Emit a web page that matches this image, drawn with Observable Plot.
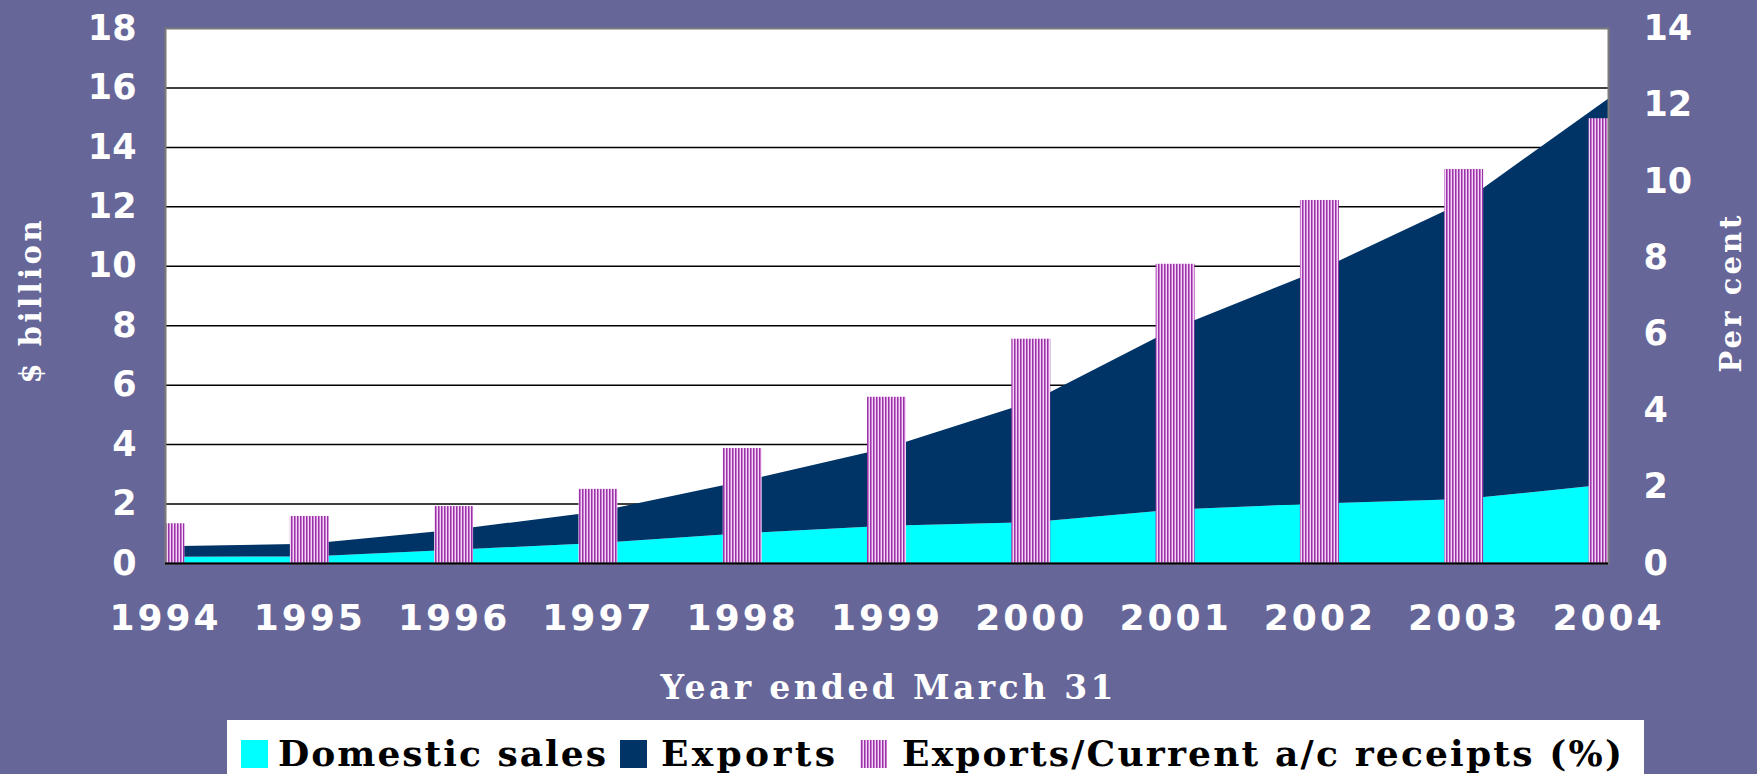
<!DOCTYPE html>
<html>
<head>
<meta charset="utf-8">
<script src="https://cdn.jsdelivr.net/npm/d3@7"></script>
<script src="https://cdn.jsdelivr.net/npm/@observablehq/plot@0.6"></script>
<style>
  html, body { margin: 0; padding: 0; background: #666699; }
  #chart svg, #legend svg { display: block; }
  g[aria-label="x-axis tick label"] { letter-spacing: 3px; }
</style>
</head>
<body>
<div id="chart"></div>
<div id="legend"></div>
<script>
// ---- Data ----
const years = [1994, 1995, 1996, 1997, 1998, 1999, 2000, 2001, 2002, 2003, 2004];
// $ billion
const domesticSales = [0.21, 0.22, 0.45, 0.67, 1.00, 1.25, 1.37, 1.80, 2.00, 2.15, 2.65];
const exports       = [0.35, 0.43, 0.67, 1.06, 1.75, 2.62, 4.05, 6.11, 7.86, 10.00, 12.97];
// Per cent
const exportsShare  = [1.04, 1.23, 1.49, 1.94, 3.01, 4.35, 5.87, 7.83, 9.50, 10.31, 11.64];

const seriesNames = ["Domestic sales", "Exports"];
const shareName = "Exports/Current a/c receipts (%)";
const xTitle = "Year ended March 31";
const leftTitle = "$ billion";
const rightTitle = "Per cent";
const leftTicks = [0, 2, 4, 6, 8, 10, 12, 14, 16, 18];
const rightTicks = [0, 2, 4, 6, 8, 10, 12, 14];
const gridTicks = [2, 4, 6, 8, 10, 12, 14, 16];

const leftMax = 18, rightMax = 14;
const toLeft = v => v * leftMax / rightMax;

// tidy table for the stacked areas
const areaRows = [];
years.forEach((y, i) => {
  areaRows.push({year: y, series: seriesNames[0], value: domesticSales[i]});
  areaRows.push({year: y, series: seriesNames[1], value: exports[i]});
});
const shareRows = years.map((y, i) => ({year: y, share: exportsShare[i]}));

const barHalf = 0.135;

const chart = Plot.plot({
  width: 1757,
  height: 720,
  marginTop: 28,
  marginBottom: 157,
  marginLeft: 165,
  marginRight: 149,
  style: {background: "#666699", fontFamily: "DejaVu Sans", overflow: "visible"},
  x: {domain: [1994, 2004], axis: null},
  y: {domain: [0, leftMax], axis: null},
  color: {domain: seriesNames, range: ["#00ffff", "#003366"]},
  marks: [
    Plot.frame({fill: "white"}),
    Plot.ruleY(gridTicks, {stroke: "#000", strokeWidth: 1.5}),
    Plot.areaY(areaRows, {x: "year", y: "value", fill: "series"}),
    Plot.rectY(shareRows, {
      x1: d => d.year - barHalf,
      x2: d => d.year + barHalf,
      y1: 0,
      y2: d => toLeft(d.share),
      fill: "url(#stripes)",
      clip: true
    }),
    Plot.frame({stroke: "#7a7a7a", strokeWidth: 2}),
    Plot.ruleY([0], {stroke: "#000", strokeWidth: 2}),
    Plot.axisX(years, {
      tickSize: 0, tickPadding: 41, tickFormat: "d",
      fontSize: 36, fontWeight: "bold", color: "white", label: null
    }),
    Plot.axisY(leftTicks, {
      anchor: "left", tickSize: 0, tickPadding: 29,
      fontSize: 35, fontWeight: "bold", color: "white", label: null
    }),
    Plot.axisY(rightTicks.map(toLeft), {
      anchor: "right", tickSize: 0, tickPadding: 35,
      tickFormat: d => Math.round(d * rightMax / leftMax),
      fontSize: 35, fontWeight: "bold", color: "white", label: null
    }),
    Plot.text([xTitle], {
      frameAnchor: "bottom", dy: 125, lineAnchor: "middle", textAnchor: "middle",
      fontFamily: "DejaVu Serif", fontWeight: "bold", fontSize: 33, fill: "white"
    }),
    Plot.text([leftTitle], {
      frameAnchor: "left", dx: -134, dy: 6, rotate: -90,
      lineAnchor: "middle", textAnchor: "middle",
      fontFamily: "DejaVu Serif", fontWeight: "bold", fontSize: 29, fill: "white"
    }),
    Plot.text([rightTitle], {
      frameAnchor: "right", dx: 123, dy: -2, rotate: -90,
      lineAnchor: "middle", textAnchor: "middle",
      fontFamily: "DejaVu Serif", fontWeight: "bold", fontSize: 29, fill: "white"
    })
  ]
});

d3.select(chart).insert("defs", ":first-child").html(`
  <pattern id="stripes" patternUnits="userSpaceOnUse" width="3" height="10">
    <rect width="3" height="10" fill="#f3d6f3"/>
    <rect x="0" width="1" height="10" fill="#9933a8"/>
    <rect x="1" width="1" height="10" fill="#c97ad0"/>
  </pattern>`);
// stretch the axis titles to the reference's spaced-out widths
const titleWidths = new Map([[xTitle, 453], [leftTitle, 163], [rightTitle, 157]]);
d3.select(chart).selectAll("text")
  .filter(function () { return titleWidths.has(this.textContent); })
  .attr("textLength", function () { return titleWidths.get(this.textContent); })
  .attr("lengthAdjust", "spacing");
document.getElementById("chart").appendChild(chart);

// ---- Legend (below the plot) ----
const legendItems = [
  {label: seriesNames[0], fill: "#00ffff", sx: 241, tx: 278, tw: 328},
  {label: seriesNames[1], fill: "#003366", sx: 620, tx: 661, tw: 174},
  {label: shareName, fill: "url(#stripesLegend)", sx: 860, tx: 902, tw: 720}
];
const lg = d3.select("#legend").append("svg")
  .attr("width", 1757).attr("height", 54)
  .style("background", "#666699");
lg.append("defs").html(`
  <pattern id="stripesLegend" patternUnits="userSpaceOnUse" width="3" height="10">
    <rect width="3" height="10" fill="#f3d6f3"/>
    <rect x="0" width="1" height="10" fill="#9933a8"/>
    <rect x="1" width="1" height="10" fill="#c97ad0"/>
  </pattern>`);
lg.append("rect").attr("x", 227).attr("y", 0).attr("width", 1417).attr("height", 54).attr("fill", "white");
const items = lg.selectAll("g.item").data(legendItems).join("g").attr("class", "item");
items.append("rect")
  .attr("x", d => d.sx).attr("y", 20).attr("width", 27).attr("height", 28)
  .attr("fill", d => d.fill);
items.append("text")
  .attr("x", d => d.tx).attr("y", 46)
  .attr("textLength", d => d.tw).attr("lengthAdjust", "spacing")
  .attr("font-family", "DejaVu Serif").attr("font-weight", "bold").attr("font-size", 36)
  .attr("fill", "#000")
  .text(d => d.label);
</script>
</body>
</html>
